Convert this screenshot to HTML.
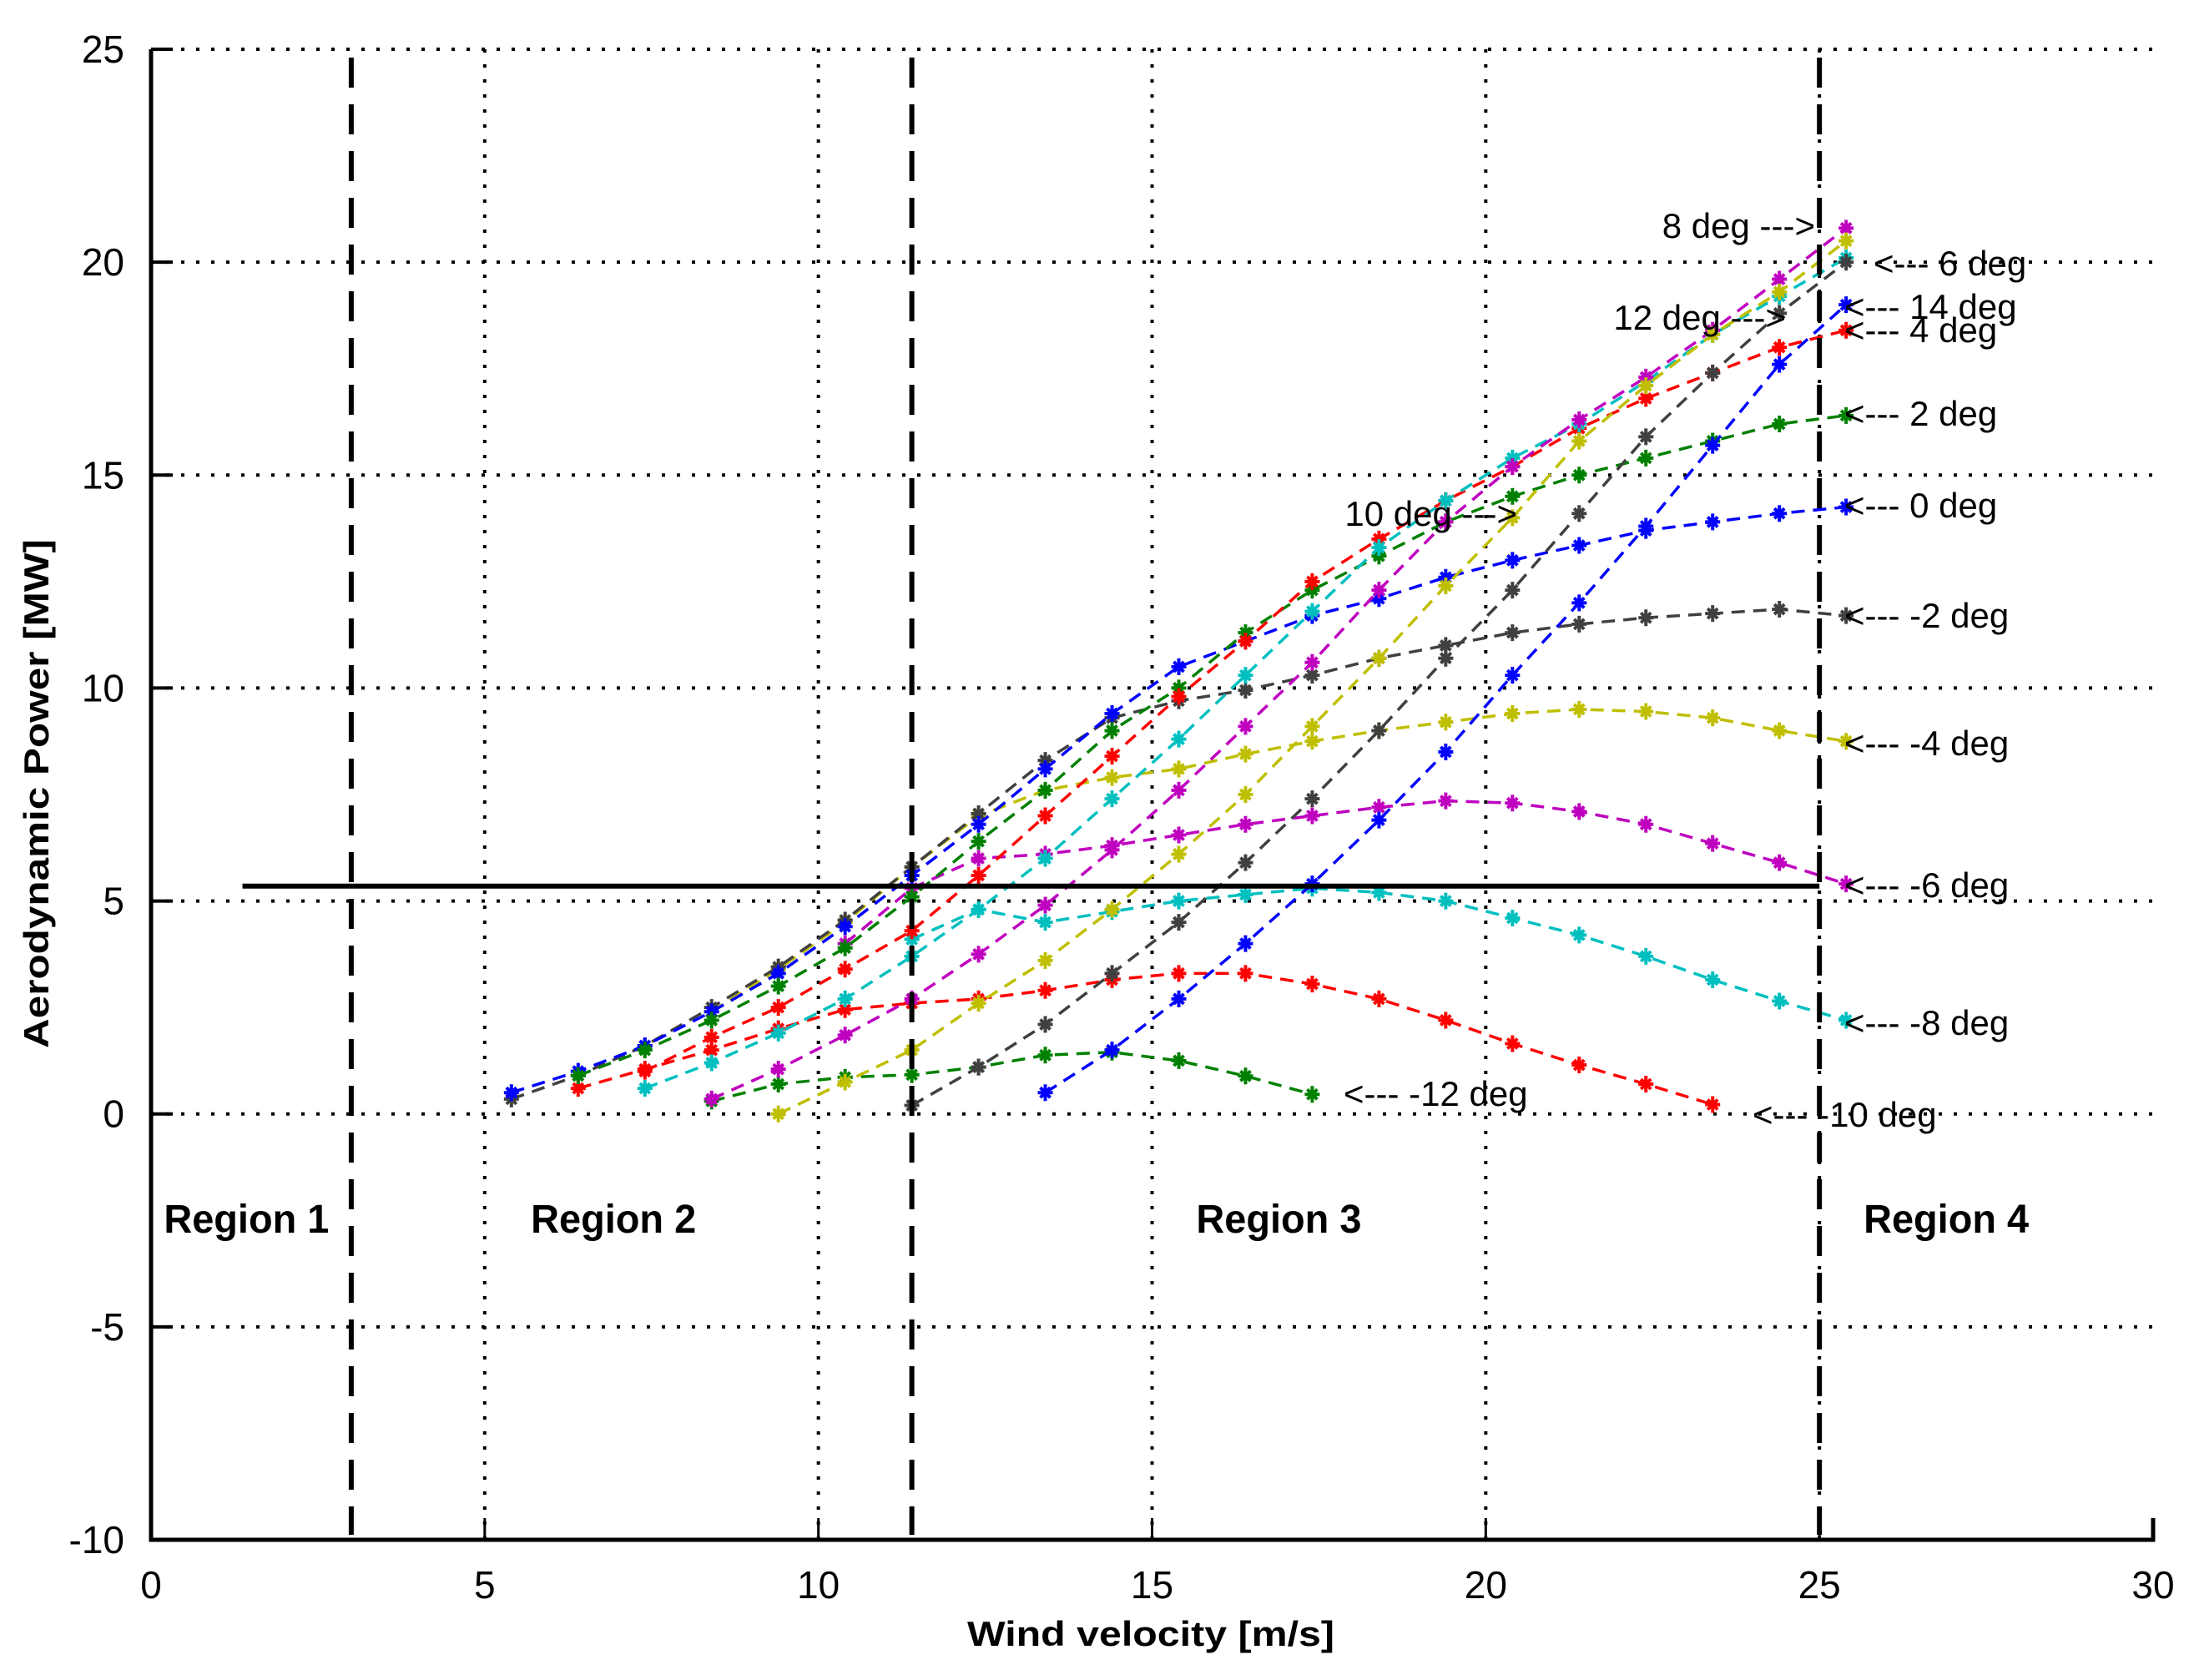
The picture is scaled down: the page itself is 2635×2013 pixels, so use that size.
<!DOCTYPE html>
<html><head><meta charset="utf-8"><style>
html,body{margin:0;padding:0;background:#fff;}
svg{display:block;font-family:"Liberation Sans",sans-serif;}
</style></head><body>
<svg id="chart" width="2635" height="2013" viewBox="0 0 2635 2013" xmlns="http://www.w3.org/2000/svg">
<rect width="2635" height="2013" fill="#fff"/>
<g id="grid"></g>
<g id="series"></g>
<g id="refs"></g>
<g id="axes"></g>
<g id="ann"></g>
<text x="1379" y="1972" font-size="42" font-weight="bold" text-anchor="middle" textLength="440" lengthAdjust="spacingAndGlyphs">Wind velocity [m/s]</text>
<text transform="translate(58,951) rotate(-90)" font-size="42" font-weight="bold" text-anchor="middle" textLength="610" lengthAdjust="spacingAndGlyphs">Aerodynamic Power [MW]</text>
</svg>
<script>
const xTicks = [0,5,10,15,20,25,30];
const yTicks = [-10,-5,0,5,10,15,20,25];
const pitchLabels = ["-12","-10","-8","-6","-4","-2","0","2","4","6","8","10","12","14"];
const seriesColors = ["#008000","#ff0000","#00bfbf","#bf00bf","#bfbf00","#404040","#0000ff","#008000","#ff0000","#00bfbf","#bf00bf","#bfbf00","#404040","#0000ff"];
const seriesStart = [8.4,6.4,11.4,10.4,8.4,5.4,5.4,6.4,7.4,7.4,8.4,9.4,11.4,13.4];
const sM12 = [0.3,0.7,0.86,0.92,1.1,1.38,1.45,1.25,0.89,0.46];
const sM10 = [0.6,1.05,1.5,2.0,2.45,2.6,2.7,2.9,3.15,3.3,3.3,3.05,2.7,2.2,1.65,1.15,0.7,0.22];
const sM8 = [4.1,4.8,4.5,4.75,5.0,5.15,5.3,5.2,5.0,4.6,4.2,3.7,3.15,2.65,2.2];
const sM6 = [4.0,5.3,6.0,6.1,6.3,6.55,6.8,7.0,7.2,7.35,7.3,7.1,6.8,6.35,5.9,5.4];
const sM4 = [2.4,3.4,4.5,5.8,7.0,7.6,7.9,8.1,8.45,8.75,9.0,9.2,9.4,9.5,9.45,9.3,9.0,8.75];
const sM2 = [0.35,0.9,1.6,2.5,3.45,4.55,5.8,7.05,8.3,9.3,9.7,9.95,10.3,10.7,11.0,11.3,11.5,11.65,11.75,11.85,11.7];
const s0 = [0.5,1.0,1.6,2.4,3.3,4.4,5.6,6.8,8.1,9.4,10.5,11.1,11.7,12.1,12.6,13.0,13.35,13.7,13.9,14.1,14.25];
const s2 = [0.9,1.5,2.2,3.0,3.9,5.1,6.4,7.6,9.0,10.0,11.3,12.3,13.1,13.9,14.5,15.0,15.4,15.8,16.2,16.4];
const s4 = [1.0,1.8,2.5,3.4,4.3,5.6,7.0,8.4,9.8,11.1,12.5,13.5,14.4,15.2,16.1,16.8,17.4,18.0,18.4];
const s6 = [0.6,1.2,1.9,2.7,3.7,4.8,6.0,7.4,8.8,10.3,11.8,13.3,14.4,15.4,16.2,17.2,18.3,19.2,20.1];
const s8 = [0.35,1.05,1.85,2.7,3.75,4.9,6.2,7.6,9.1,10.6,12.3,13.9,15.2,16.3,17.3,18.4,19.6,20.8];
const s10 = [0,0.75,1.5,2.6,3.6,4.8,6.1,7.5,9.1,10.7,12.4,14.0,15.8,17.1,18.3,19.3,20.5];
const s12 = [0.2,1.1,2.1,3.3,4.5,5.9,7.4,9.0,10.7,12.3,14.1,15.9,17.4,18.8,20.0];
const s14 = [0.5,1.5,2.7,4.0,5.4,6.9,8.5,10.3,12.0,13.8,15.7,17.6,19.0];
const seriesValues = [sM12,sM10,sM8,sM6,sM4,sM2,s0,s2,s4,s6,s8,s10,s12,s14];
const regionBounds = [3,11.4,25];
const ratedPower = [5.35];
const ratedRange = [1.37,25];
const regionNames = ["Region 1","Region 2","Region 3","Region 4"];
const regionX = [1.43,6.93,16.9,26.9];

const NS="http://www.w3.org/2000/svg";
const X0=181,X1=2580,Y0=1845,Y1=59;
function sx(v){return X0+(v-0)/(30-0)*(X1-X0);}
function sy(v){return Y0-(v-(-10))/(25-(-10))*(Y0-Y1);}
function mk(tag,attrs,parent){const e=document.createElementNS(NS,tag);for(const k in attrs)e.setAttribute(k,attrs[k]);parent.appendChild(e);return e;}
const grid=document.getElementById('grid'),axes=document.getElementById('axes'),ser=document.getElementById('series'),refs=document.getElementById('refs'),ann=document.getElementById('ann');

xTicks.forEach(t=>{
  if(t>0&&t<30){const l=mk('line',{x1:sx(t),x2:sx(t),y1:Y1,y2:Y0,stroke:'#000','stroke-width':4,'stroke-dasharray':'4 14'},grid);
  
  }
  const tk=mk('line',{x1:sx(t),x2:sx(t),y1:Y0,y2:Y0-26,stroke:'#000','stroke-width':3},axes);
  
  
  const tl=mk('text',{x:sx(t),y:Y0+70,'font-size':46,'text-anchor':'middle'},axes);
  tl.textContent=t;
  
  
});
yTicks.forEach(t=>{
  if(t>-10&&t<=25){const l=mk('line',{x1:X0,x2:X1,y1:sy(t),y2:sy(t),stroke:'#000','stroke-width':4,'stroke-dasharray':'4 14'},grid);
  
  }
  const tk=mk('line',{x1:X0,x2:X0+26,y1:sy(t),y2:sy(t),stroke:'#000','stroke-width':4},axes);
  
  
  const tl=mk('text',{x:X0-32,y:sy(t)+16,'font-size':46,'text-anchor':'end'},axes);
  tl.textContent=t;
  
  
});
const axL=mk('path',{d:`M${X0},${Y1}V${Y0}H${X1}V${Y0-26}`,fill:'none',stroke:'#000','stroke-width':5},axes);



seriesValues.forEach((vals,i)=>{
  const pts=vals.map((v,k)=>[sx(seriesStart[i]+k),sy(v)]);
  const p=mk('polyline',{points:pts.map(q=>q.join(',')).join(' '),fill:'none',stroke:seriesColors[i],'stroke-width':3.5,'stroke-dasharray':'16 10'},ser);
  
  
  pts.forEach(q=>{
    const m=mk('path',{d:`M${q[0]-9},${q[1]}h18M${q[0]},${q[1]-10}v20M${q[0]-6},${q[1]-6}l12,12M${q[0]-6},${q[1]+6}l12,-12`,stroke:seriesColors[i],'stroke-width':4},ser);
    
    
  });
});

regionBounds.forEach(b=>{
  const l=mk('line',{x1:sx(b),x2:sx(b),y1:Y1+10,y2:Y0-6,stroke:'#000','stroke-width':6,'stroke-dasharray':'36 20'},refs);
  
  
});
const rp=mk('line',{x1:sx(ratedRange[0]),x2:sx(ratedRange[1]),y1:sy(ratedPower[0]),y2:sy(ratedPower[0]),stroke:'#000','stroke-width':6},refs);



regionNames.forEach((n,i)=>{
  const t=mk('text',{x:sx(regionX[i]),y:1477,'font-size':48,'font-weight':'bold','text-anchor':'middle',textLength:198,lengthAdjust:'spacingAndGlyphs'},ann);
  t.textContent=n;
  
  
});
const labels=[
 ["8 deg --->",2000,285,"end"],["<--- 6 deg",2245,330,"start"],["<--- 14 deg",2210,382,"start"],["<--- 4 deg",2210,410,"start"],
 ["12 deg --->",2132,395,"end"],["<--- 2 deg",2210,510,"start"],["10 deg --->",1818,630,"end"],["<--- 0 deg",2210,620,"start"],
 ["<--- -2 deg",2210,752,"start"],["<--- -4 deg",2210,905,"start"],["<--- -6 deg",2210,1075,"start"],["<--- -8 deg",2210,1240,"start"],
 ["<--- -12 deg",1610,1325,"start"],["<--- -10 deg",2100,1350,"start"]];
labels.forEach(a=>{
  let x=a[1];
  if(a[0]==="8 deg --->")x=2175;
  if(a[0]==="12 deg --->")x=2140;
  const t=mk('text',{x:x,y:a[2],'font-size':42,'text-anchor':a[3]},ann);
  t.textContent=a[0];
  
  
});
</script>
</body></html>
